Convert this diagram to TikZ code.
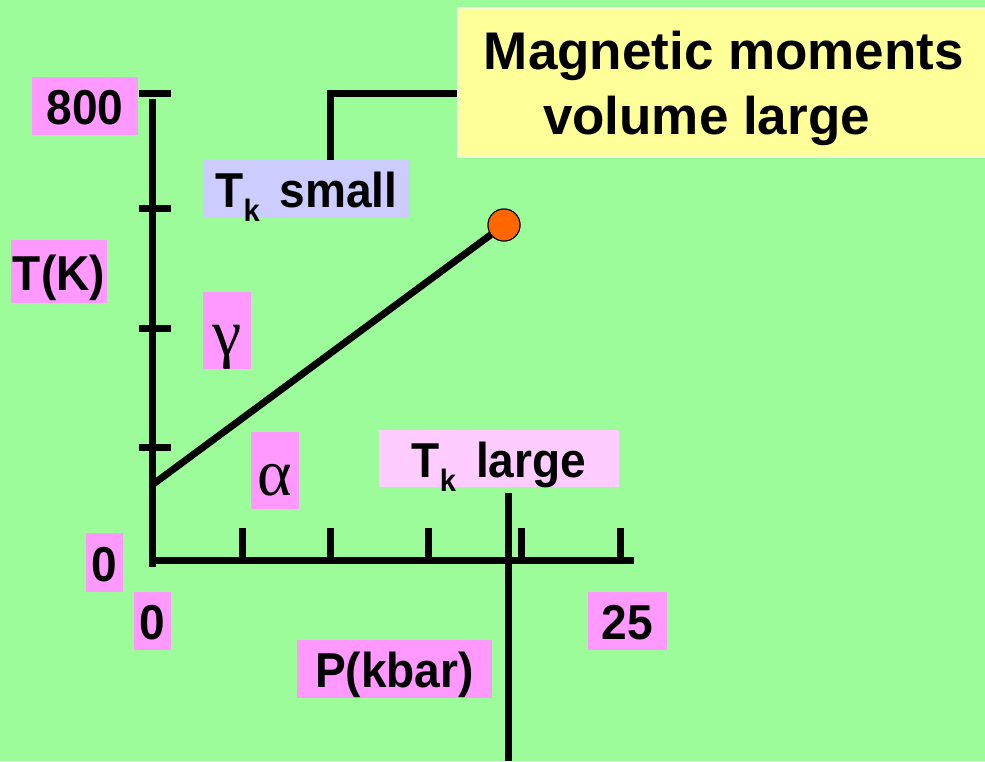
\documentclass[tikz,border=0pt]{standalone}
\usepackage{fontspec}
\setmainfont{Liberation Sans}
\newfontfamily\tagfont[FakeStretch=0.94]{Liberation Sans}
\newfontfamily\greekfont{Liberation Serif}
\usepackage{tikz}
\usetikzlibrary{positioning}
\definecolor{BgGreen}{HTML}{9CFC9A}
\definecolor{TagPink}{HTML}{FF99FF}
\definecolor{PalePink}{HTML}{FFCCFF}
\definecolor{Lavender}{HTML}{CCCCFF}
\definecolor{NoteYellow}{HTML}{FFFF99}
\definecolor{NoteEdge}{HTML}{F4FFD2}
\definecolor{DotOrange}{HTML}{FF6600}
\newcommand{\ksub}{\raisebox{-14pt}{\fontsize{31}{31}\selectfont k}}

\begin{document}
\begin{tikzpicture}[x=1pt,y=-1pt,
  tag/.style={fill=TagPink,inner sep=0pt,text height=37pt,text depth=0pt,font=\fontsize{49}{52}\tagfont\bfseries},
  greek/.style={fill=TagPink,inner sep=0pt,text height=50pt,text depth=0pt,font=\fontsize{66}{66}\selectfont\greekfont},
  axis/.style={line width=7pt},
  conn/.style={line width=7pt},
  dot/.style={circle,fill=DotOrange,draw=black,line width=1pt,minimum size=32pt,inner sep=0pt}
]
\fill[BgGreen] (0,0) rectangle (985,761);
\useasboundingbox (0,0) rectangle (985,761);
\coordinate (top) at (152,99);
\coordinate (origin) at (152,560);
\coordinate (pend) at (634,560);
\coordinate (start) at (152,485);
\draw[axis] (top) -- (152,567);
\draw[axis] (origin) -- (pend);
\foreach \ty in {93,208,328,447}
  \draw[axis] (139,\ty) -- (171,\ty);
\foreach \tx in {242,330,428,521,620}
  \draw[axis] (\tx,528) -- (\tx,560);
\node[tag,minimum width=106pt,minimum height=58pt] (tmax) at (85,106) {800};
\node[tag,minimum width=96pt,minimum height=63pt] (tlabel) at (59,271.5) {T(K)};
\node[tag,minimum width=37pt,minimum height=59pt] (tzero) at (104.5,562.5) {0};
\node[tag,minimum width=37pt,minimum height=58pt] (pzero) at (152.5,621) {0};
\node[tag,minimum width=79pt,minimum height=58pt] (pmax) at (627.5,621) {25};
\node[tag,minimum width=195pt,minimum height=58pt] (plabel) at (394.5,669) {P(kbar)};
\node[greek,minimum width=48pt,minimum height=77pt] (gamma) at (227,330.5) {γ};
\node[greek,minimum width=48pt,minimum height=77pt] (alpha) at (275,470.5) {α};
\node[tag,fill=Lavender,minimum width=207pt,minimum height=57pt] (tksmall) at (306.5,188.5) {T\ksub\hspace{20pt}small};
\node[tag,fill=PalePink,minimum width=240pt,minimum height=57pt] (tklarge) at (499,458.5) {T\ksub\hspace{20pt}large};
\node[fill=NoteYellow,draw=NoteEdge,line width=2.5pt,inner sep=0pt,minimum width=532pt,minimum height=149pt,align=center,
  font=\fontsize{53}{65}\selectfont\bfseries] (note) at (724,82.5) {\rule{0pt}{51pt}Magnetic moments\\volume large\hspace*{35pt}};
\node[dot] (crit) at (504,225) {};
\draw[conn] (start) -- (crit);
\node[dot] at (crit) {};
\coordinate (elbow) at (330,93);
\draw[conn] (elbow -| note.west) -| (elbow |- tksmall.north);
\coordinate (cut) at (508,761);
\draw[conn] ([yshift=-6pt]cut |- tklarge.south) -- (cut);
\end{tikzpicture}
\end{document}
